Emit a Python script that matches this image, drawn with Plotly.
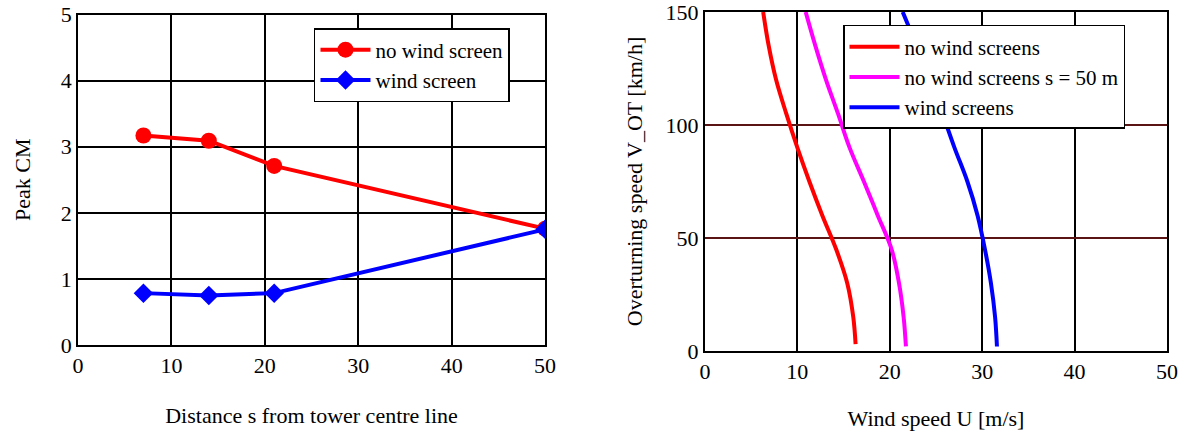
import plotly.graph_objects as go

# ---- Left chart data ----
dist_s = [7, 14, 21, 50]
cm_no_screen = [3.17, 3.09, 2.71, 1.76]
cm_screen = [0.785, 0.75, 0.785, 1.75]

# ---- Right chart data (wind speed U [m/s] vs overturning speed V_OT [km/h]) ----
v_red = [3, 15, 30, 45, 60, 75, 90, 105, 120, 135, 150]
u_red = [16.3, 16.05, 15.4, 14.2, 12.7, 11.3, 10.0, 8.8, 7.7, 6.9, 6.3]

v_mag = [2, 15, 30, 45, 60, 75, 90, 105, 120, 135, 150]
u_mag = [21.75, 21.5, 21.0, 20.2, 18.7, 17.2, 15.65, 14.4, 13.1, 11.95, 10.9]

v_blue = [2, 15, 30, 45, 60, 75, 90, 105, 120, 135, 150]
u_blue = [31.6, 31.4, 30.95, 30.3, 29.5, 28.4, 27.0, 25.7, 24.3, 22.9, 21.4]

FONT = "'Liberation Serif', 'Times New Roman', serif"
FS = 22
LFS = 21

fig = go.Figure()

fig.add_trace(go.Scatter(
    x=dist_s, y=cm_no_screen, name="no wind screen", mode="lines+markers",
    line=dict(color="#ff0000", width=4),
    marker=dict(symbol="circle", size=16, color="#ff0000"),
    xaxis="x", yaxis="y", legend="legend"))
fig.add_trace(go.Scatter(
    x=dist_s, y=cm_screen, name="wind screen", mode="lines+markers",
    line=dict(color="#0000ff", width=4),
    marker=dict(symbol="diamond", size=15, color="#0000ff"),
    xaxis="x", yaxis="y", legend="legend"))

fig.add_trace(go.Scatter(
    x=u_red, y=v_red, name="no wind screens", mode="lines",
    line=dict(color="#ff0000", width=4, shape="spline", smoothing=1),
    xaxis="x2", yaxis="y2", legend="legend2"))
fig.add_trace(go.Scatter(
    x=u_mag, y=v_mag, name="no wind screens s = 50 m", mode="lines",
    line=dict(color="#ff00ff", width=4, shape="spline", smoothing=1),
    xaxis="x2", yaxis="y2", legend="legend2"))
fig.add_trace(go.Scatter(
    x=u_blue, y=v_blue, name="wind screens", mode="lines",
    line=dict(color="#0000ff", width=4, shape="spline", smoothing=1),
    xaxis="x2", yaxis="y2", legend="legend2"))

axis_common = dict(showline=True, mirror=True, linecolor="black", linewidth=2,
                   ticks="", zeroline=False, showgrid=True, gridwidth=2,
                   automargin=False, ticklabeloverflow="allow",
                   tickfont=dict(family=FONT, size=FS, color="black"))

fig.update_layout(
    width=1188, height=433,
    margin=dict(l=0, r=0, t=0, b=0, autoexpand=False),
    paper_bgcolor="white", plot_bgcolor="white",
    font=dict(family=FONT, size=FS, color="black"),
    showlegend=True,
    xaxis=dict(domain=[0.0657, 0.4588], range=[0, 50], dtick=10, gridcolor="black",
               title=dict(text="Distance s from tower centre line", standoff=30,
                          font=dict(family=FONT, size=FS)),
               anchor="y", **axis_common),
    yaxis=dict(domain=[0.2032, 0.9665], range=[0, 5], dtick=1, gridcolor="black",
               title=dict(text="Peak CM", standoff=24, font=dict(family=FONT, size=FS)),
               anchor="x", **axis_common),
    xaxis2=dict(domain=[0.5934, 0.9823], range=[0, 50], dtick=10, gridcolor="black",
                title=dict(text="Wind speed U [m/s]", standoff=27,
                           font=dict(family=FONT, size=FS)),
                anchor="y2", **axis_common),
    yaxis2=dict(domain=[0.1894, 0.9723], range=[0, 150], dtick=50, gridcolor="#5a1414",
                title=dict(text="Overturning speed V_OT [km/h]", standoff=17,
                           font=dict(family=FONT, size=FS)),
                anchor="x2", **axis_common),
    legend=dict(x=0.2643, y=0.9353, xanchor="left", yanchor="top",
                bgcolor="white", bordercolor="black", borderwidth=1.5,
                font=dict(family=FONT, size=LFS, color="black"),
                tracegroupgap=0, itemwidth=50),
    legend2=dict(x=0.7096, y=0.9423, xanchor="left", yanchor="top",
                 bgcolor="white", bordercolor="black", borderwidth=1.5,
                 font=dict(family=FONT, size=LFS, color="black"),
                 tracegroupgap=0, itemwidth=50),
)

fig.write_html("out.html", config={"displayModeBar": False},
               post_script="document.body.style.margin='0';")
